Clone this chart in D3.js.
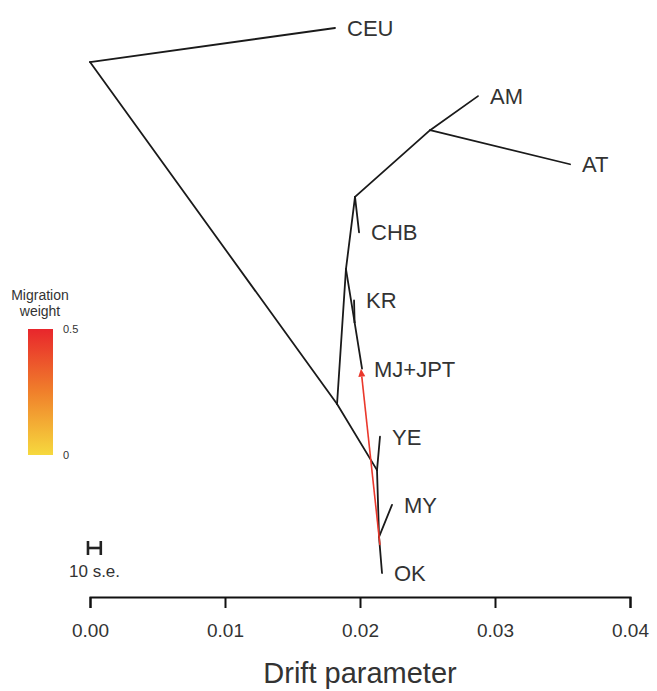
<!DOCTYPE html>
<html>
<head>
<meta charset="utf-8">
<script src="https://cdn.jsdelivr.net/npm/d3@7"></script>
<style>
  body { margin: 0; background: #fff; }
  svg { font-family: "Liberation Sans", Arial, sans-serif; }
</style>
</head>
<body>
<div id="chart"></div>
<script>
// noder i trädet: namn, drift (x) och rang (y, bladen ligger på heltal)
var nodeNames = ['root', 'CEU', 'A', 'D', 'E', 'CHB', 'F', 'AM', 'AT', 'G', 'KR', 'MJ+JPT', 'B', 'YE', 'C', 'MY', 'OK'];
var nodeDrift = [0, 0.01815, 0.01830, 0.01896, 0.01963, 0.01993, 0.02519, 0.02874, 0.03556, 0.01960, 0.01956, 0.02015, 0.02126, 0.02148, 0.02141, 0.02237, 0.02163];
var nodeRank = [7.5, 8, 2.48, 4.46, 5.52, 5, 6.5, 7, 6, 3.68, 4, 3, 1.51, 2, 0.53, 1, 0];
// grenar (förälder -> barn)
var edgeFrom = ['root', 'root', 'A', 'A', 'D', 'D', 'E', 'E', 'F', 'F', 'G', 'G', 'B', 'B', 'C', 'C'];
var edgeTo = ['CEU', 'A', 'D', 'B', 'E', 'G', 'CHB', 'F', 'AM', 'AT', 'KR', 'MJ+JPT', 'YE', 'C', 'MY', 'OK'];
var tipNames = ['CEU', 'AM', 'AT', 'CHB', 'KR', 'MJ+JPT', 'YE', 'MY', 'OK'];
// migrationskant
var migStart = [0.02148, 0.41];
var migEnd = [0.02007, 3.0];
var migWeight = 0.45;
// axel
var xTicks = [0, 0.01, 0.02, 0.03, 0.04];
var xTickLabels = ['0.00', '0.01', '0.02', '0.03', '0.04'];
var legendTicks = [0, 0.5];
var seBar = [-0.00015, 0.0008];

var width = 657;
var height = 691;

var svg = d3.select('#chart')
    .append('svg')
    .attr('width', width)
    .attr('height', height);

var x = d3.scaleLinear().domain([0, 0.04]).range([90, 630]);
var y = d3.scaleLinear().domain([0, 8]).range([573, 28]);

// färgskala för migrationsvikt (gul -> orange -> röd)
var heat = d3.scaleLinear()
    .domain([0, 0.25, 0.5])
    .range(['#f6d93e', '#f0802b', '#e8262c']);

var pos = {};
nodeNames.forEach(function (n, i) {
    pos[n] = [nodeDrift[i], nodeRank[i]];
});

// grenar
svg.append('g')
    .selectAll('line')
    .data(edgeFrom.map(function (f, i) { return [f, edgeTo[i]]; }))
    .enter()
    .append('line')
    .attr('x1', function (d) { return x(pos[d[0]][0]); })
    .attr('y1', function (d) { return y(pos[d[0]][1]); })
    .attr('x2', function (d) { return x(pos[d[1]][0]); })
    .attr('y2', function (d) { return y(pos[d[1]][1]); })
    .attr('stroke', '#1a1a1a')
    .attr('stroke-width', 1.8)
    .attr('stroke-linecap', 'round');

// etiketter vid bladen
svg.append('g')
    .selectAll('text')
    .data(tipNames)
    .enter()
    .append('text')
    .attr('x', function (d) { return x(pos[d][0]) + 12; })
    .attr('y', function (d) { return y(pos[d][1]); })
    .attr('dy', '0.36em')
    .attr('font-size', 22)
    .attr('fill', '#333')
    .text(function (d) { return d; });

// migrationspil
var mcol = heat(migWeight);
var x1 = x(migStart[0]), y1 = y(migStart[1]);
var x2 = x(migEnd[0]), y2 = y(migEnd[1]);
var ang = Math.atan2(y2 - y1, x2 - x1);
var headLen = 8, headW = 3.5;
var bx = x2 - headLen * Math.cos(ang), by = y2 - headLen * Math.sin(ang);
svg.append('line')
    .attr('x1', x1).attr('y1', y1)
    .attr('x2', bx).attr('y2', by)
    .attr('stroke', mcol)
    .attr('stroke-width', 1.6);
svg.append('path')
    .attr('d', 'M' + x2 + ',' + y2 +
        'L' + (bx + headW * Math.sin(ang)) + ',' + (by - headW * Math.cos(ang)) +
        'L' + (bx - headW * Math.sin(ang)) + ',' + (by + headW * Math.cos(ang)) + 'Z')
    .attr('fill', mcol);

// x-axel
var axis = svg.append('g')
    .attr('transform', 'translate(0,597)')
    .call(d3.axisBottom(x)
        .tickValues(xTicks)
        .tickFormat(function (d, i) { return xTickLabels[i]; })
        .tickSize(11)
        .tickPadding(16));
axis.select('.domain').attr('stroke', '#111').attr('stroke-width', 2);
axis.selectAll('.tick line').attr('stroke', '#111').attr('stroke-width', 2);
axis.selectAll('.tick text')
    .attr('font-size', 19)
    .attr('fill', '#333')
    .attr('font-family', '"Liberation Sans", Arial, sans-serif');

svg.append('text')
    .attr('x', x(0.02))
    .attr('y', 683)
    .attr('text-anchor', 'middle')
    .attr('font-size', 29)
    .attr('fill', '#333')
    .text('Drift parameter');

// s.e.-skala (H)
var seG = svg.append('g').attr('stroke', '#222').attr('stroke-width', 2.6);
seG.append('line')
    .attr('x1', x(seBar[0])).attr('x2', x(seBar[1]))
    .attr('y1', 548).attr('y2', 548);
seBar.forEach(function (s) {
    seG.append('line')
        .attr('x1', x(s)).attr('x2', x(s))
        .attr('y1', 541).attr('y2', 555);
});
svg.append('text')
    .attr('x', 69)
    .attr('y', 577)
    .attr('font-size', 17)
    .attr('fill', '#333')
    .text('10 s.e.');

// legend för migrationsvikt
var defs = svg.append('defs');
var grad = defs.append('linearGradient')
    .attr('id', 'heatgrad')
    .attr('x1', 0).attr('y1', 1).attr('x2', 0).attr('y2', 0);
[0, 0.25, 0.5].forEach(function (v) {
    grad.append('stop')
        .attr('offset', v / 0.5)
        .attr('stop-color', heat(v));
});
var ly = d3.scaleLinear().domain([0, 0.5]).range([455, 329]);
svg.append('rect')
    .attr('x', 28)
    .attr('y', ly(0.5))
    .attr('width', 25)
    .attr('height', ly(0) - ly(0.5))
    .attr('fill', 'url(#heatgrad)');
svg.append('g')
    .selectAll('text')
    .data(legendTicks)
    .enter()
    .append('text')
    .attr('x', 63)
    .attr('y', function (d) { return ly(d); })
    .attr('dy', '0.35em')
    .attr('font-size', 11)
    .attr('fill', '#333')
    .text(function (d) { return d; });
svg.append('text')
    .attr('x', 40).attr('y', 300)
    .attr('text-anchor', 'middle')
    .attr('font-size', 14)
    .attr('fill', '#333')
    .text('Migration');
svg.append('text')
    .attr('x', 40).attr('y', 316)
    .attr('text-anchor', 'middle')
    .attr('font-size', 14)
    .attr('fill', '#333')
    .text('weight');
</script>
</body>
</html>
